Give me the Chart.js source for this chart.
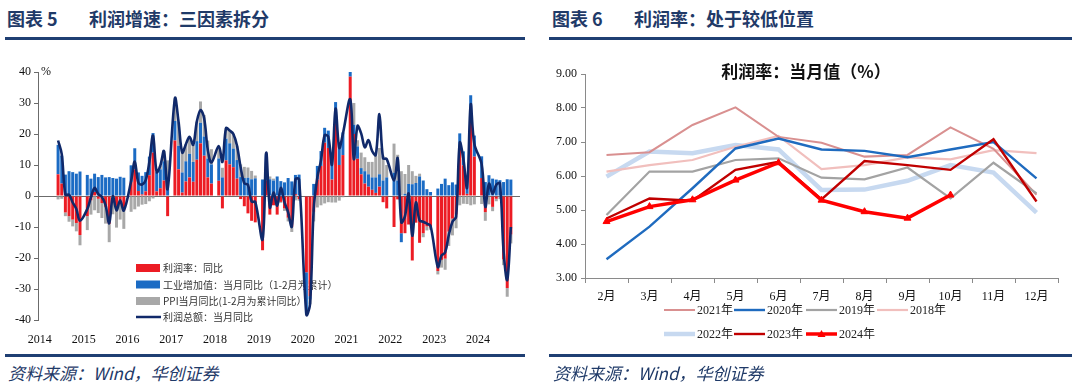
<!DOCTYPE html>
<html><head><meta charset="utf-8">
<script src="https://cdn.jsdelivr.net/npm/chart.js@4.4.1/dist/chart.umd.min.js"></script>
<style>
html,body{margin:0;padding:0;background:#fff;}
body{width:1080px;height:388px;position:relative;overflow:hidden;font-family:"Noto Sans CJK SC",sans-serif;}
.title{position:absolute;top:6px;font-size:18px;font-weight:bold;color:#1f3a68;white-space:nowrap;line-height:24px;}
.title .t2{letter-spacing:3px;}
.rule{position:absolute;height:3px;background:#1f3f73;}
.src{position:absolute;top:361px;font-size:17px;font-style:italic;color:#1f3a68;white-space:nowrap;line-height:24px;}
canvas{position:absolute;}
.pct{position:absolute;left:41px;top:64px;font:12px "Liberation Serif",serif;color:#111;}
.ctitle{position:absolute;top:58px;left:806px;transform:translateX(-50%);font-size:17px;font-weight:bold;color:#111;white-space:nowrap;}
</style></head>
<body>
<div class="title" style="left:7px">图表 5</div>
<div class="title t2" style="left:89px">利润增速：三因素拆分</div>
<div class="rule" style="left:5px;width:520px;top:37px"></div>
<div class="title" style="left:552px">图表 6</div>
<div class="title t2" style="left:634px">利润率：处于较低位置</div>
<div class="rule" style="left:549px;width:523px;top:37px"></div>

<canvas id="c1" width="540" height="295" style="left:0;top:55px"></canvas>
<div class="pct">%</div>
<canvas id="c2" width="535" height="300" style="left:545px;top:55px"></canvas>
<div class="ctitle">利润率：当月值（%）</div>

<div class="rule" style="left:5px;width:520px;top:354px"></div>
<div class="rule" style="left:549px;width:523px;top:354px"></div>
<div class="src" style="left:8px">资料来源：Wind，华创证券</div>
<div class="src" style="left:553px">资料来源：Wind，华创证券</div>

<script>
// ---------- Chart 5 data (monthly, Jan 2014 – Dec 2024) ----------
const years = [2014,2015,2016,2017,2018,2019,2020,2021,2022,2023,2024];
const monthLabels = [];
years.forEach(y => { for (let m = 1; m <= 12; m++) monthLabels.push(y + '-' + m); });

const marginContrib = [
  null,null,null,null,null, 7, 4, -5.3, -6.5, -7.6, -8.7, -12.6,
  null, -6.5, -1.4, 1.3, -0.9, -2.3, -3.5, -9.0, 0.1, -4.3, -1.7, -4.7,
  null, 4.5, 8.6, 1.6, 0.5, 1.5, 6.7, 14.0, 1.5, 2.5, 5.0, -6.5,
  null, 17.9, 8.6, 1.1, 4.7, 6.0, 4.6, 11.7, 17.0, 13.0, 6.0, 4.0,
  null, 4.9, -4.0, 11.5, 10.2, 9.3, 5.6, -1.0, -3.3, -5.6, -8.0, -8.5,
  null, -17.5, 5.0, -6.0, -3.0, -6.0, -1.9, -4.0, -7.0, -10.0, 0.6, -1.0,
  null, -24.6, -32.3, -5.1, 5.3, 9.7, 17.2, 15.5, 5.3, 23.4, 10.0, 13.2,
  null, 38.5, 20, 12, 7, 4, 3, 2, 1, 3, -2, -4,
  null, -10, -1.1, -12, -12, -9.2, -20.8, -8.6, -15.1, -12.0, -9.8, -10.2,
  null, -24.2, -20.6, -20.2, -11.5, -7.3, -6.0, 15.7, 9.9, 0.7, 25.9, 12.7,
  null, 5.8, -5.2, -0.2, -3.5, -0.9, -0.2, -20.5, -29.7, -12.4, null, null
];
const ivaContrib = [
  null,null,null,null,null, 9.5, 9.0, 6.9, 8.0, 7.7, 7.2, 7.9,
  null, 6.8, 5.6, 5.9, 6.1, 6.8, 6.0, 6.1, 5.7, 5.6, 6.2, 5.9,
  null, 5.4, 6.8, 6.0, 6.0, 6.2, 6.0, 6.3, 6.1, 6.1, 6.2, 6.0,
  null, 6.3, 7.6, 6.5, 6.5, 7.6, 6.4, 6.0, 6.6, 6.2, 6.1, 6.2,
  null, 7.2, 6.0, 7.0, 6.8, 6.0, 6.0, 6.1, 5.8, 5.9, 5.4, 5.7,
  null, 5.3, 8.5, 5.4, 5.0, 6.3, 4.8, 4.4, 5.8, 4.7, 6.2, 6.9,
  null, -13.5, -1.1, 3.9, 4.4, 4.8, 4.8, 5.6, 6.9, 6.9, 7.0, 7.3,
  null, 1.5, 3, 4, 2, 4, 4, 4, 5, 4, 5, 6,
  null, 7.5, 5.0, -2.9, 0.7, 3.9, 3.8, 4.2, 6.3, 5.0, 2.2, 1.3,
  null, 2.4, 3.9, 5.6, 3.5, 4.4, 3.7, 4.5, 4.5, 4.6, 6.6, 6.8,
  null, 7.0, 4.5, 6.7, 5.6, 5.3, 5.1, 4.5, 5.4, 5.3, null, null
];
const ppiContrib = [
  null,null,null,null,null, -1.1, -0.9, -1.2, -1.8, -2.2, -2.7, -3.3,
  null, -4.5, -4.6, -4.6, -4.6, -4.8, -5.4, -5.9, -5.9, -5.9, -5.9, -5.9,
  null, -5.1, -4.3, -3.4, -2.8, -2.6, -1.7, -0.8, 0.1, 1.2, 3.3, 5.5,
  null, 7.3, 7.6, 6.4, 5.5, 5.5, 5.5, 6.3, 6.9, 6.9, 5.8, 4.9,
  null, 4.0, 3.1, 3.4, 4.1, 4.7, 4.6, 4.1, 3.6, 3.3, 2.7, 0.9,
  null, 0.1, 0.4, 0.9, 0.6, 0.0, -0.3, -0.8, -1.2, -1.6, -1.4, -0.5,
  null, -0.2, -1.5, -3.1, -3.7, -3.0, -2.4, -2.0, -2.1, -2.1, -1.5, -0.4,
  null, 0, 7, 2, 5, 4.5, 4, 5, 7, 8.5, 8, 4,
  null, 9.4, 8.3, 8.0, 6.4, 6.1, 4.2, 2.3, 0.9, -1.3, -1.3, -0.7,
  null, -1.1, -2.5, -3.6, -4.6, -5.4, -4.4, -3.0, -2.5, -2.6, -3.0, -2.7,
  null, -2.6, -2.8, -2.5, -1.4, -0.8, -0.8, -1.8, -2.8, -2.9, null, null
];
const totalProfit = [
  null,null,null,null,null, 17.9, 13.5, 0.4, 0.4, -2.1, -4.2, -8.0,
  null, -4.2, -0.4, 2.6, 0.6, -0.3, -2.9, -8.8, -0.1, -4.6, -1.4, -4.7,
  null, 4.8, 11.1, 4.2, 3.7, 5.1, 11.0, 19.5, 7.7, 9.8, 14.5, 2.3,
  null, 31.5, 23.8, 14.0, 16.7, 19.1, 16.5, 24.0, 27.7, 25.1, 14.9, 10.8,
  null, 16.1, 11.0, 21.9, 21.1, 20.0, 16.2, 9.2, 4.1, 3.6, -1.8, -1.9,
  null, -14.0, 13.9, -3.7, 1.1, -3.1, 2.6, -2.0, -5.3, -9.9, 5.4, 5.4,
  null, -38.3, -34.9, -4.3, 6.0, 11.5, 19.6, 19.1, 10.1, 28.2, 15.5, 20.1,
  null, 31.2, 11.9, 22.6, 20.2, 15.7, 18.0, 14.5, 13.2, 26.4, 12.2, 11.9,
  null, 5.0, 12.2, -8.5, -6.5, 0.8, -12.8, -2.1, -7.9, -8.3, -8.9, -9.6,
  null, -22.9, -19.2, -18.2, -12.6, -8.3, -6.7, 17.2, 11.9, 2.7, 29.5, 16.8,
  null, 10.2, -3.5, 4.0, 0.7, 3.6, 4.1, -17.8, -27.1, -10.0, null, null
];
const yTicks5 = [-40,-30,-20,-10,0,10,20,30,40];

// ---------- Chart 6 data ----------
const months6 = ['2月','3月','4月','5月','6月','7月','8月','9月','10月','11月','12月'];
const m2021 = [6.62, 6.70, 7.50, 8.02, 7.15, 6.98, 6.57, 6.62, 7.43, 6.80, 5.45];
const m2020 = [3.55, 4.51, 5.64, 6.81, 7.10, 6.78, 6.74, 6.55, 6.78, 7.00, 5.93];
const m2019 = [4.85, 6.13, 6.13, 6.47, 6.52, 5.95, 5.90, 6.25, 5.34, 6.39, 5.49];
const m2018 = [6.13, 6.32, 6.47, 6.86, 7.18, 6.20, 6.32, 6.55, 6.49, 6.76, 6.67];
const m2022 = [5.98, 6.72, 6.67, 6.91, 6.78, 5.59, 5.60, 5.86, 6.32, 6.10, 4.92];
const m2023 = [4.75, 5.34, 5.27, 6.18, 6.42, 5.31, 6.44, 6.32, 6.18, 7.08, 5.25];
const m2024 = [4.66, 5.10, 5.30, 5.88, 6.39, 5.29, 4.95, 4.76, 5.44, null, null];
const yTicks6 = [3,4,5,6,7,8,9];

const SERIF = '"Liberation Serif","Noto Sans CJK SC",serif';

// legend inside plot for chart 5
const legend5 = {
  id: 'legend5',
  beforeDatasetsDraw(chart) {
    const ctx = chart.ctx;
    const order = [1, 2, 3, 0];
    const rowY = [213, 229.5, 246, 262];
    order.forEach((di, r) => {
      const ds = chart.data.datasets[di];
      const y = rowY[r];
      ctx.save();
      if (ds.type === 'line') {
        ctx.strokeStyle = ds.borderColor; ctx.lineWidth = 2.5;
        ctx.beginPath(); ctx.moveTo(136, y); ctx.lineTo(161, y); ctx.stroke();
      } else {
        ctx.fillStyle = ds.backgroundColor;
        ctx.fillRect(136, y - 4, 24, 8);
      }
      ctx.fillStyle = '#333';
      ctx.font = '10px "Noto Sans CJK SC", sans-serif';
      ctx.textBaseline = 'middle';
      ctx.fillText(ds.label, 163, y + 0.5);
      ctx.restore();
    });
  }
};

new Chart(document.getElementById('c1'), {
  type: 'bar',
  data: {
    labels: monthLabels,
    datasets: [
      { type: 'line', label: '利润总额：当月同比', data: totalProfit, borderColor: '#10296a',
        borderWidth: 2.6, pointRadius: 0, tension: 0.35, spanGaps: true, order: 0, stack: 'line' },
      { label: '利润率：同比', data: marginContrib, backgroundColor: '#ec1c24', order: 1, stack: 's' },
      { label: '工业增加值：当月同比（1-2月为累计）', data: ivaContrib, backgroundColor: '#1b6bc4', order: 2, stack: 's' },
      { label: 'PPI当月同比(1-2月为累计同比）', data: ppiContrib, backgroundColor: '#a8a8a8', order: 3, stack: 's' }
    ]
  },
  options: {
    responsive: false, animation: false, devicePixelRatio: 1,
    layout: { padding: { top: 17, right: 20, bottom: 0, left: 0 } },
    plugins: { legend: { display: false }, tooltip: { enabled: false } },
    datasets: { bar: { barPercentage: 0.82, categoryPercentage: 1.0 } },
    scales: {
      x: {
        stacked: true, offset: true,
        grid: { display: false }, border: { display: false },
        ticks: { autoSkip: false, maxRotation: 0, minRotation: 0, padding: 5, color: '#111',
          font: { family: SERIF, size: 12 },
          callback: (v, i) => (i % 12 === 0 ? String(years[i / 12]) : '') },
        afterFit: s => { s.height = 30; }
      },
      y: {
        stacked: true, min: -40, max: 40,
        afterBuildTicks: s => { s.ticks = yTicks5.map(v => ({ value: v })); },
        ticks: { padding: 3, color: '#111', font: { family: SERIF, size: 12 } },
        grid: { color: c => (c.tick && c.tick.value === 0 ? '#6b6b6b' : 'rgba(0,0,0,0)'),
          tickColor: '#6b6b6b', tickLength: 4, lineWidth: 1 },
        border: { display: true, color: '#6b6b6b' },
        afterFit: s => { s.width = 38; }
      }
    }
  },
  plugins: [legend5]
});

// legend below plot for chart 6
const legend6 = {
  id: 'legend6',
  afterDraw(chart) {
    const ctx = chart.ctx;
    const colX = [119, 189, 261, 332];
    const rowY = [255, 279];
    chart.data.datasets.forEach((ds, i) => {
      const r = i < 4 ? 0 : 1, c = i < 4 ? i : i - 4;
      const x = colX[c], y = rowY[r];
      ctx.save();
      ctx.strokeStyle = ds.borderColor; ctx.lineWidth = ds.borderWidth;
      ctx.beginPath(); ctx.moveTo(x, y); ctx.lineTo(x + 31, y); ctx.stroke();
      if (ds.pointRadius > 0) {
        ctx.fillStyle = ds.borderColor;
        ctx.beginPath(); ctx.moveTo(x + 15.5, y - 4); ctx.lineTo(x + 19.5, y + 3); ctx.lineTo(x + 11.5, y + 3); ctx.closePath(); ctx.fill();
      }
      ctx.fillStyle = '#222';
      ctx.font = '12px ' + SERIF;
      ctx.textBaseline = 'middle';
      ctx.fillText(ds.label, x + 33, y + 0.5);
      ctx.restore();
    });
  }
};

const lineDs = (label, data, color, width, order, extra) => Object.assign({
  label, data, borderColor: color, backgroundColor: color, borderWidth: width,
  pointRadius: 0, tension: 0, order, spanGaps: false
}, extra || {});

new Chart(document.getElementById('c2'), {
  type: 'line',
  data: {
    labels: months6,
    datasets: [
      lineDs('2021年', m2021, '#d99090', 2, 4),
      lineDs('2020年', m2020, '#1f6bbf', 2.4, 2),
      lineDs('2019年', m2019, '#a3a3a3', 2.2, 3),
      lineDs('2018年', m2018, '#f1bfbd', 2.2, 5),
      lineDs('2022年', m2022, '#c7d9f0', 4.5, 6),
      lineDs('2023年', m2023, '#c00000', 2.4, 1),
      lineDs('2024年', m2024, '#ff0000', 3.5, 0, { pointRadius: 4, pointStyle: 'triangle', pointBorderWidth: 1 })
    ]
  },
  options: {
    responsive: false, animation: false, devicePixelRatio: 1,
    layout: { padding: { top: 19, right: 22, bottom: 50, left: 0 } },
    plugins: { legend: { display: false }, tooltip: { enabled: false } },
    scales: {
      x: {
        offset: true,
        grid: { offset: true, drawOnChartArea: false, tickLength: 5, color: '#8a8a8a' },
        border: { color: '#8a8a8a' },
        ticks: { padding: 7, color: '#111', font: { family: SERIF, size: 12 }, maxRotation: 0 },
        afterFit: s => { s.height = 27; }
      },
      y: {
        min: 3, max: 9,
        afterBuildTicks: s => { s.ticks = yTicks6.map(v => ({ value: v })); },
        ticks: { padding: 4, color: '#111', font: { family: SERIF, size: 12 }, callback: v => Number(v).toFixed(2) },
        grid: { drawOnChartArea: false, tickLength: 4, color: '#8a8a8a' },
        border: { color: '#8a8a8a' },
        afterFit: s => { s.width = 40; }
      }
    }
  },
  plugins: [legend6]
});
</script>
</body></html>
